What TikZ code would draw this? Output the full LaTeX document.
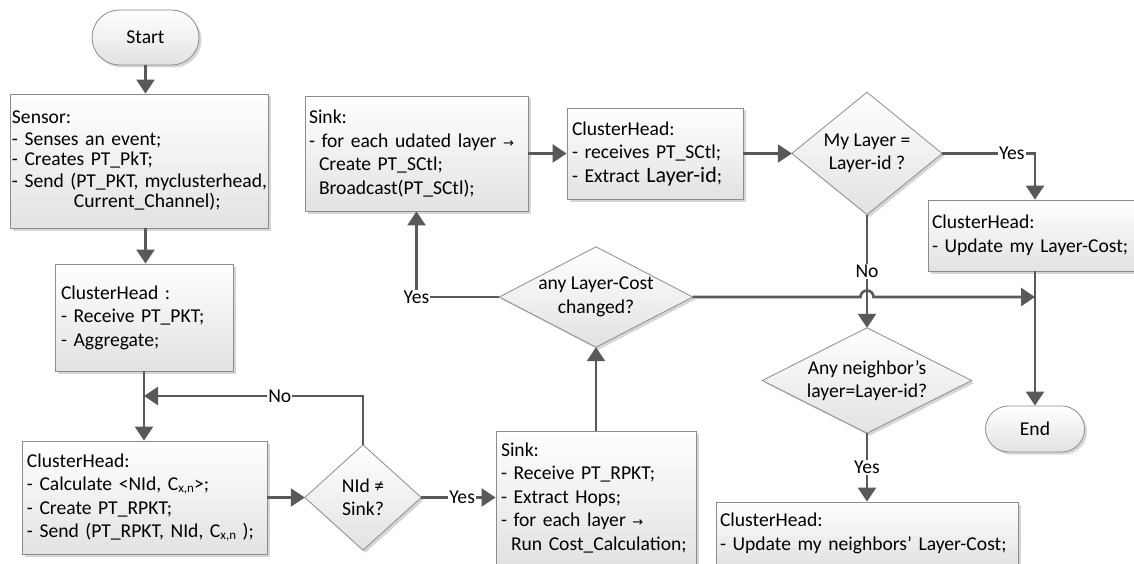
\documentclass[tikz,border=0pt]{standalone}
\usepackage{fontspec}
\setmainfont{Carlito}
\newfontfamily\symfont{DejaVu Sans}
\usetikzlibrary{arrows.meta,shapes.misc,shadows,calc,backgrounds}

\definecolor{linegray}{HTML}{595959}
\definecolor{edgegray}{HTML}{8C8C8C}
\definecolor{shadegray}{HTML}{E2E2E2}

\newcommand\fs{\fontsize{19.6}{23.5}\selectfont}
\newcommand\rarr{{\symfont\fontsize{13}{13}\selectfont →}}
\newcommand\sbx[1]{\raisebox{-1.5pt}{\fontsize{13}{13}\selectfont #1}}

% diamond outline drawn behind an invisible rectangular node
\newcommand\dshape[1]{%
  \begin{scope}[on background layer]
    \fill[black,opacity=0.16] ($(#1.north)+(2.5,2.5)$) -- ($(#1.east)+(2.5,2.5)$)
      -- ($(#1.south)+(2.5,2.5)$) -- ($(#1.west)+(2.5,2.5)$) -- cycle;
    \path[top color=white,bottom color=shadegray,draw=edgegray,line width=0.8pt]
      (#1.north) -- (#1.east) -- (#1.south) -- (#1.west) -- cycle;
  \end{scope}}

\tikzset{
  box/.style={rectangle, draw=edgegray, line width=0.8pt,
    top color=white, bottom color=shadegray,
    drop shadow={shadow xshift=2.5pt, shadow yshift=-2.5pt, fill=black, opacity=0.16},
    align=left, inner ysep=0pt, font=\fs},
  term/.style={rounded rectangle, draw=edgegray, line width=0.8pt,
    top color=white, bottom color=shadegray,
    drop shadow={shadow xshift=2.5pt, shadow yshift=-2.5pt, fill=black, opacity=0.16},
    inner sep=0pt, font=\fs},
  dia/.style={rectangle, inner sep=0pt, align=center, font=\fs},
  arr/.style={draw=linegray, line width=2.6pt,
    -{Triangle[length=14pt,width=18pt]}},
  lbl/.style={fill=white, inner sep=1pt, font=\fs, text=black},
}

\begin{document}
\begin{tikzpicture}[x=1pt,y=-1pt]
\useasboundingbox (0,0) rectangle (1134,564);
\clip (0,0) rectangle (1134,564);

% terminals
\node[term, minimum width=107pt, minimum height=55pt] (start) at (145.5,37.5) {Start};
\node[term, minimum width=99pt, minimum height=46pt] (finish) at (1035,429) {End};

% process boxes
\node[box, font=\fontsize{19.6}{21}\selectfont, minimum width=258pt, minimum height=134pt,
      text width=254pt, inner xsep=2pt] (sensor) at (139,161)
  {Sensor:\\- Senses an event;\\- Creates PT\_PkT;\\\mbox{- Send (PT\_PKT, myclusterhead,}\\\hspace*{62pt}Current\_Channel);};
\node[box, minimum width=178pt, minimum height=107pt, text width=166pt, inner xsep=6pt]
  (chA) at (144,317.5) {ClusterHead :\\- Receive PT\_PKT;\\- Aggregate;};
\node[box, minimum width=245pt, minimum height=113pt, text width=235pt, inner xsep=5pt]
  (chB) at (144.5,497.5)
  {ClusterHead:\\- Calculate <NId, C\sbx{x,n}>;\\- Create PT\_RPKT;\\- Send (PT\_RPKT, NId, C\sbx{x,n} );};
\node[box, minimum width=200pt, minimum height=134pt, text width=190pt, inner xsep=5pt]
  (sinkB) at (596,498)
  {Sink:\\- Receive PT\_RPKT;\\- Extract Hops;\\- for each layer \rarr\\\hspace*{10pt}Run Cost\_Calculation;};
\node[box, minimum width=223pt, minimum height=115pt, text width=215pt, inner xsep=4pt]
  (sinkA) at (416.5,153.5)
  {Sink:\\- for each udated layer \rarr\\\hspace*{10pt}Create PT\_SCtl;\\\hspace*{10pt}Broadcast(PT\_SCtl);};
\node[box, minimum width=176pt, minimum height=91pt, text width=166pt, inner xsep=5pt]
  (chC) at (655,153.5)
  {ClusterHead:\\- receives PT\_SCtl;\\- Extract {\fontsize{22}{23.5}\selectfont Layer-id};};
\node[box, minimum width=214pt, minimum height=71pt, text width=206pt, inner xsep=4pt]
  (chD) at (1035,235.5) {ClusterHead:\\- Update my Layer-Cost;};
\node[box, minimum width=302pt, minimum height=63pt, text width=294pt, inner xsep=4pt]
  (chE) at (867,533.5) {ClusterHead:\\- Update my neighbors’ Layer-Cost;};

% decisions
\node[dia, minimum width=116pt, minimum height=105pt] (dSink) at (363,497.5) {NId ≠\\Sink?};
\node[dia, minimum width=193pt, minimum height=100pt] (dAny) at (596,297) {any Layer-Cost\\changed?};
\node[dia, minimum width=150pt, minimum height=122pt] (dMy) at (867,153.5) {My Layer =\\Layer-id ?};
\node[dia, minimum width=209pt, minimum height=105pt] (dNb) at (867,380.5) {Any neighbor’s\\layer=Layer-id?};
\dshape{dSink}
\dshape{dAny}
\dshape{dMy}
\dshape{dNb}

% connectors
\draw[arr] (start.south) -- (start.south |- sensor.north);
\draw[arr] (sensor.south -| start.south) -- (chA.north -| start.south);
\draw[arr] (chA.south) -- (chA.south |- chB.north);
\coordinate (loopIn) at (chA.south |- 0,396);
\draw[arr] (dSink.north) |- node[lbl,pos=0.69]{No} (loopIn);
\draw[arr] (chB.east) -- (dSink.west);
\draw[arr] (dSink.east) -- node[lbl,pos=0.55]{Yes} (sinkB.west |- dSink.east);
\draw[arr] (sinkB.north) -- (dAny.south);
\draw[arr] (dAny.west) -| node[lbl,pos=0.5]{Yes} (sinkA.south);
\draw[arr] (sinkA.east) -- (chC.west);
\draw[arr] (chC.east) -- (dMy.west);
\draw[arr] (dMy.east) -| node[lbl,pos=0.375]{Yes} (chD.north);
\draw[arr] (chD.south) -- (finish.north);
\draw[arr] (dMy.south) -- node[lbl]{No} (dNb.north);
\draw[arr] (dNb.south) -- node[lbl]{Yes} (chE.north);
\coordinate (cross) at (dMy.south |- dAny.east);
\draw[arr] (dAny.east) -- ($(cross)+(-6.5,0)$) arc[start angle=180,end angle=360,radius=6.5]
  -- (cross -| chD.south);
\end{tikzpicture}
\end{document}
